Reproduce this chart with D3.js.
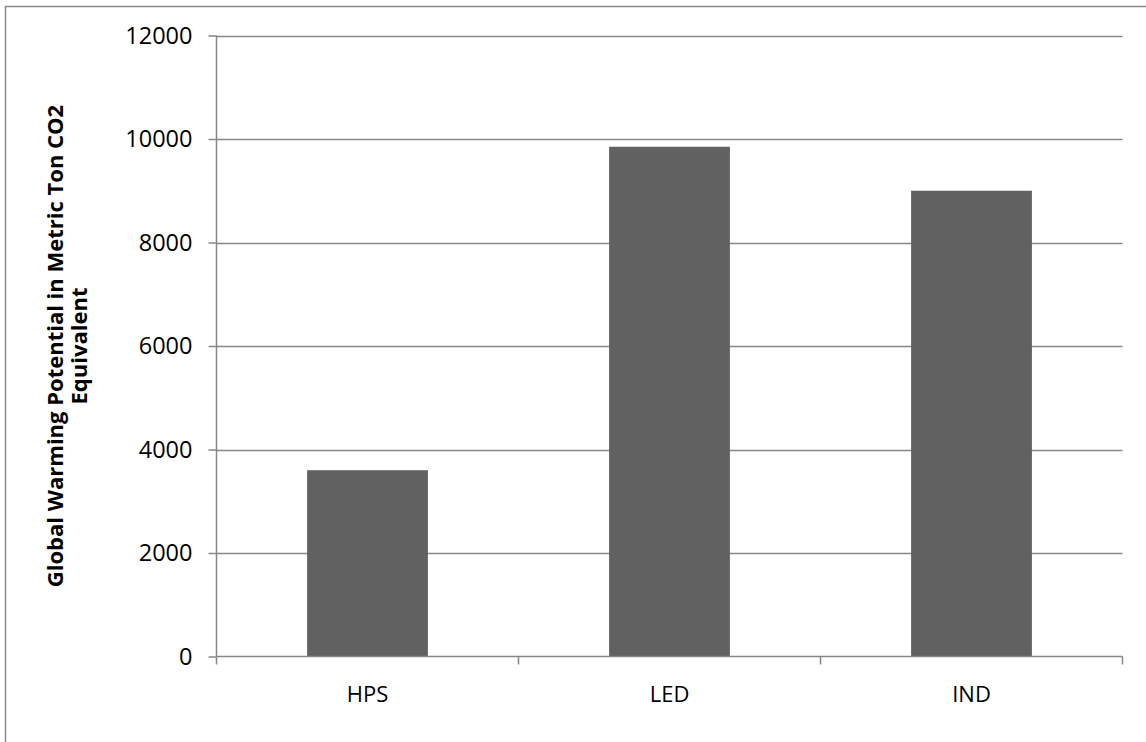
<!DOCTYPE html>
<html><head><meta charset="utf-8">
<script src="https://cdn.jsdelivr.net/npm/d3@7"></script>
<style>body{margin:0;background:#fff;} svg{display:block;}</style>
</head><body>
<script>
const categories = ["HPS", "LED", "IND"];
const values = [3600, 9850, 9000];
const yTicks = [0, 2000, 4000, 6000, 8000, 10000, 12000];
const yTitleLines = ["Global Warming Potential in Metric Ton CO2", "Equivalent"];

const W = 1146, H = 742;
const m = {left: 216.5, right: 1122.5, top: 35.5, bottom: 656.5};
const svg = d3.select("body").append("svg").attr("width", W).attr("height", H);
const font = "'Open Sans', sans-serif";

svg.append("path").attr("d", `M5.5,${H} V6.5 H${W}`).attr("fill", "none").attr("stroke", "#898989").attr("stroke-width", 1.5);

const x = d3.scaleBand().domain(categories).range([m.left, m.right]).paddingInner(0.6).paddingOuter(0.3);
const xb = d3.scaleBand().domain(categories).range([m.left, m.right]);
const y = d3.scaleLinear().domain([0, 12000]).range([m.bottom, m.top]);

// gridlines
svg.append("g").selectAll("line").data(yTicks.filter(d => d > 0)).join("line")
  .attr("x1", m.left).attr("x2", m.right)
  .attr("y1", d => Math.round(y(d)) + 0.5).attr("y2", d => Math.round(y(d)) + 0.5)
  .attr("stroke", "#878787").attr("stroke-width", 1.5);

// bars
svg.append("g").selectAll("rect").data(values).join("rect")
  .attr("x", (d, i) => x(categories[i]))
  .attr("width", x.bandwidth())
  .attr("y", d => y(d))
  .attr("height", d => y(0) - y(d))
  .attr("fill", "#616161");

// y axis
const yAxis = svg.append("g").attr("transform", `translate(${m.left},0)`)
  .call(d3.axisLeft(y).tickValues(yTicks).tickSize(8).tickPadding(16).tickFormat(d3.format("d")));
yAxis.select(".domain").attr("stroke", "#878787").attr("stroke-width", 1.5).attr("d", `M0,${m.top}V${m.bottom}`);
yAxis.selectAll(".tick line").attr("stroke", "#878787").attr("stroke-width", 1.5);
yAxis.selectAll(".tick text").attr("font-family", font).attr("font-size", 23.5).attr("fill", "#000");

// x axis
const xAxis = svg.append("g").attr("transform", `translate(0,${m.bottom})`)
  .call(d3.axisBottom(xb).tickSize(0).tickPadding(30));
xAxis.select(".domain").attr("stroke", "#878787").attr("stroke-width", 1.5).attr("d", `M${m.left},0H${m.right}`);
xAxis.selectAll(".tick text").attr("font-family", font).attr("font-size", 22).attr("fill", "#000");
// x tick marks at band boundaries
svg.append("g").selectAll("line").data(categories.map(c => xb(c)).concat([m.right])).join("line")
  .attr("x1", d => d).attr("x2", d => d)
  .attr("y1", m.bottom).attr("y2", m.bottom + 8)
  .attr("stroke", "#878787").attr("stroke-width", 1.5);

// y title
const tg = svg.append("text").attr("transform", `translate(0,${(m.top + m.bottom) / 2}) rotate(-90)`)
  .attr("text-anchor", "middle").attr("font-family", font).attr("font-weight", "bold").attr("font-size", 22).attr("fill", "#000");
tg.selectAll("tspan").data(yTitleLines).join("tspan")
  .attr("x", 0).attr("y", (d, i) => 63 + i * 24).text(d => d);
</script>
</body></html>
